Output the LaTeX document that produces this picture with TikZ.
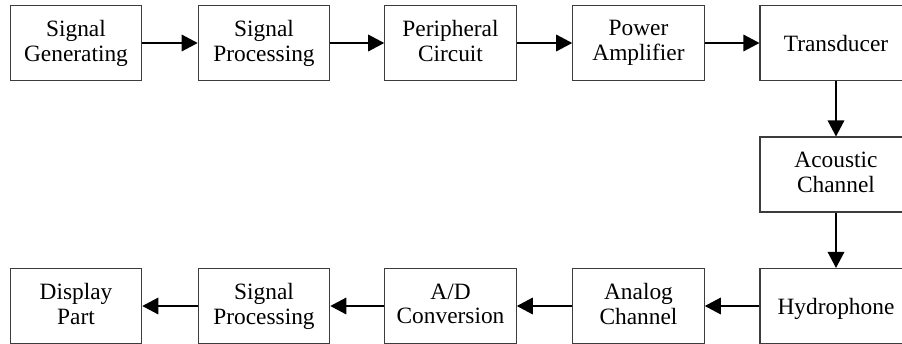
\documentclass[tikz,border=0pt]{standalone}
\usepackage{fontspec}
\setmainfont{Liberation Serif}
\usepackage{xcolor}
\usetikzlibrary{arrows.meta}
\definecolor{boxLine}{RGB}{60,60,60}
\definecolor{flowLine}{RGB}{0,0,0}
\newcommand{\bxstrut}{\rule[-2.5pt]{0pt}{14.5pt}}

\begin{document}
\begin{tikzpicture}[
    box/.style={rectangle, draw=boxLine, line width=0.6pt, minimum width=2.63cm, minimum height=1.5cm, align=center, inner sep=0pt, font=\fontsize{13.3}{14.2}\selectfont, execute at begin node=\bxstrut, execute at end node=\bxstrut},
    widebox/.style={box, minimum width=3.04cm},
    flow/.style={-{Triangle[length=0.32cm, width=0.33cm]}, draw=flowLine, line width=0.9pt}
]
\useasboundingbox (0,0) rectangle (18.04,6.86);

% Transmitting Chain
\node[box] (gen)    at (1.52,6.0)  {Signal\\Generating};
\node[box] (proc)   at (5.28,6.0)  {Signal\\Processing};
\node[box] (periph) at (9.01,6.0)  {Peripheral\\Circuit};
\node[box] (amp)    at (12.77,6.0) {Power\\Amplifier};
\node[widebox] (trans) at (16.72,6.0) {Transducer};

% Channel
\node[widebox] (acou)  at (16.72,3.37) {Acoustic\\Channel};

% Receiving Chain
\node[widebox] (hydro) at (16.72,0.74) {Hydrophone};
\node[box] (analog) at (12.77,0.74) {Analog\\Channel};
\node[box] (adc)    at (9.01,0.74)  {A/D\\Conversion};
\node[box] (rproc)  at (5.28,0.74)  {Signal\\Processing};
\node[box] (disp)   at (1.52,0.74)  {Display\\Part};

% Connections
\draw[flow] (gen) -- (proc);
\draw[flow] (proc) -- (periph);
\draw[flow] (periph) -- (amp);
\draw[flow] (amp) -- (trans);
\draw[flow] (trans) -- (acou);
\draw[flow] (acou) -- (hydro);
\draw[flow] (hydro) -- (analog);
\draw[flow] (analog) -- (adc);
\draw[flow] (adc) -- (rproc);
\draw[flow] (rproc) -- (disp);

\end{tikzpicture}
\end{document}
